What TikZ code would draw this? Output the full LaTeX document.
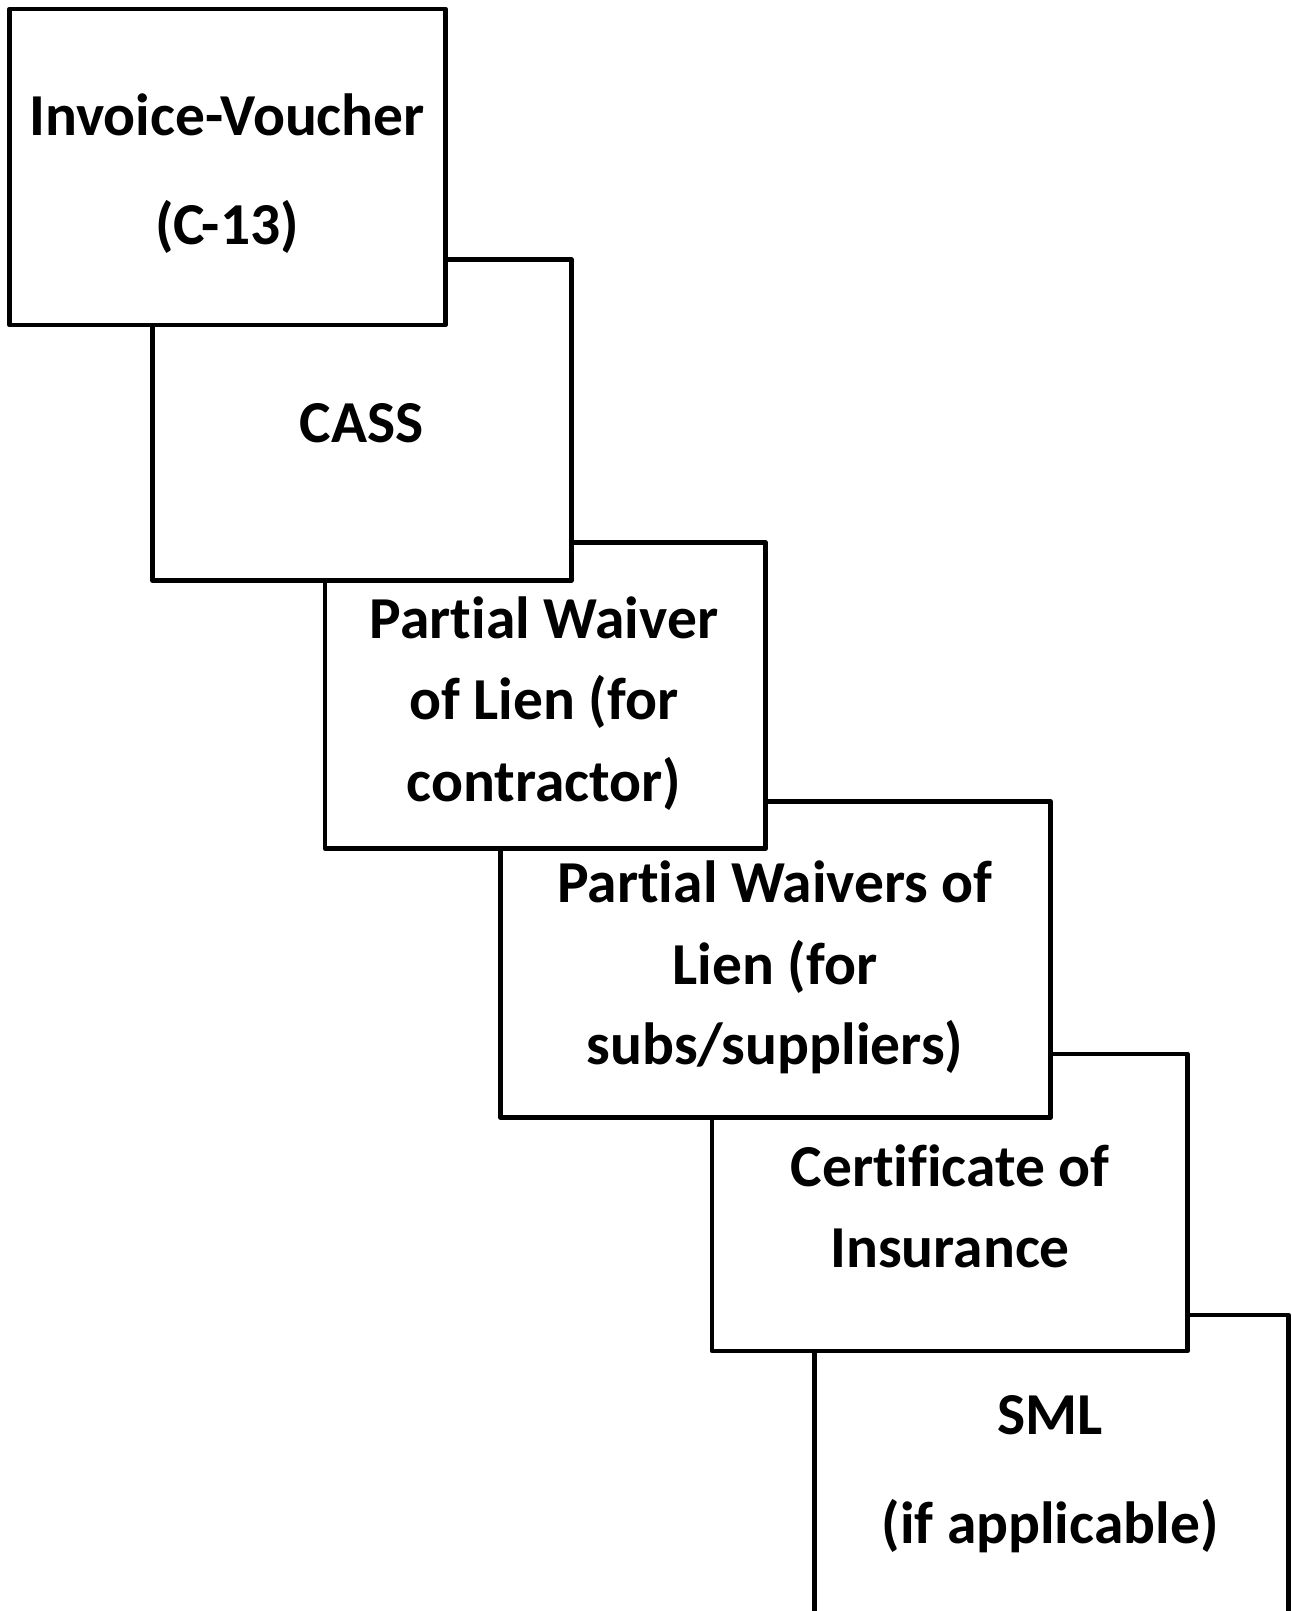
\documentclass[tikz,border=0pt]{standalone}
\usepackage{fontspec}
\setmainfont{Carlito}[Ligatures=NoCommon]
\begin{document}
\begin{tikzpicture}[x=1pt,y=-1pt,
  doc/.style={draw=black, fill=white, line width=4.5pt, rectangle, outer sep=0pt, inner sep=0pt, anchor=north west, line join=round},
  lbl/.style={font=\fontsize{59.5}{70}\selectfont\bfseries, anchor=base, inner sep=0pt}]
\useasboundingbox (0,0) rectangle (1292,1611);
\clip (0,0) rectangle (1292,1611);
\fill[white] (0,0) rectangle (1292,1611);
% boxes, drawn from bottom of the stack to top
\node[doc, minimum width=474pt, minimum height=340pt] (b6) at (814.5,1315) {};
\node[doc, minimum width=475.5pt, minimum height=297pt] (b5) at (712,1054) {};
\node[doc, minimum width=550pt, minimum height=316pt] (b4) at (500.5,801.5) {};
\node[doc, minimum width=440.5pt, minimum height=306pt] (b3) at (325,542.5) {};
\node[doc, minimum width=419pt, minimum height=321pt] (b2) at (152.5,259.5) {};
\node[doc, minimum width=436pt, minimum height=316pt] (b1) at (9.5,9) {};
% texts
\node[lbl] (t1a) at (227,135) {Invoice-Voucher};
\node[lbl] (t1b) at (227,244) {(C-13)};
\node[lbl] (t2) at (361.5,442) {CASS};
\node[lbl] (t3a) at (544,638) {Partial Waiver};
\node[lbl] (t3b) at (544,719) {of Lien (for};
\node[lbl] (t3c) at (544,801) {contractor)};
\node[lbl] (t4a) at (775,902) {Partial Waivers of};
\node[lbl] (t4b) at (775,984) {Lien (for};
\node[lbl] (t4c) at (775,1064) {subs/suppliers)};
\node[lbl] (t5a) at (950,1186) {Certificate of};
\node[lbl] (t5b) at (950,1267) {Insurance};
\node[lbl] (t6a) at (1050,1434) {SML};
\node[lbl] (t6b) at (1050,1543) {(if applicable)};
\end{tikzpicture}
\end{document}
